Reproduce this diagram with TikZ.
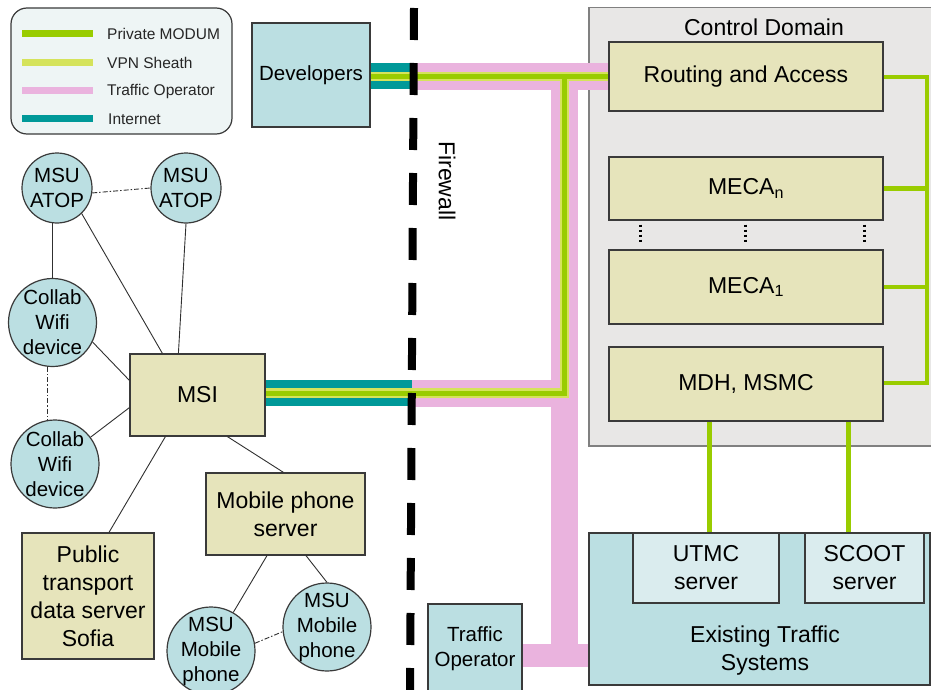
\documentclass[tikz,border=0pt]{standalone}
\usepackage{fontspec}
\setmainfont{Liberation Sans}
\usetikzlibrary{calc,backgrounds}
\definecolor{khakic}{HTML}{E6E4BB}
\definecolor{bluec}{HTML}{BBDFE2}
\definecolor{lbluec}{HTML}{DAECEE}
\definecolor{grayc}{HTML}{E8E7E6}
\definecolor{legc}{HTML}{EEF5F5}
\definecolor{bordc}{HTML}{3A3A3A}
\definecolor{greenc}{HTML}{99CC00}
\definecolor{vpnc}{HTML}{D5E35B}
\definecolor{pinkc}{HTML}{EAB3DE}
\definecolor{tealc}{HTML}{009999}
\definecolor{linec}{HTML}{303030}
\newcommand\fbig{\fontsize{23}{28}\selectfont}
\newcommand\fmid{\fontsize{20.5}{25}\selectfont}
\newcommand\fsml{\fontsize{15.5}{18}\selectfont}
\begin{document}
\begin{tikzpicture}[x=1pt,y=-1pt,
  khaki/.style={draw=bordc, line width=1.2pt, fill=khakic, inner sep=0pt, align=center, font=\fbig},
  bluebox/.style={draw=bordc, line width=1.2pt, fill=bluec, inner sep=0pt, align=center},
  lblue/.style={draw=bordc, line width=1.2pt, fill=lbluec, inner sep=0pt, align=center, font=\fbig},
  circ/.style={circle, draw=bordc, line width=1.2pt, fill=bluec, inner sep=0pt},
  clbl/.style={align=center, font=\fmid},
  conn/.style={draw=linec, line width=0.9pt},
  dashdot/.style={conn, dash pattern=on 5pt off 2pt on 1.5pt off 2pt},
  pinkband/.style={draw=pinkc, line width=27pt},
  tealband/.style={draw=tealc, line width=26pt},
  vpnband/.style={draw=vpnc, line width=9.5pt, line join=miter},
  greenband/.style={draw=greenc, line width=5pt, line join=miter},
  busline/.style={draw=greenc, line width=4.5pt, line join=miter},
  dotcol/.style={draw=black, line width=2.5pt, dash pattern=on 2.5pt off 2.5pt},
  legtxt/.style={anchor=west, inner sep=0pt, font=\fsml, text=black!85},
]
\useasboundingbox (0,0) rectangle (931,690);

% background containers
\begin{scope}[on background layer]
\fill[white] (0,0) rectangle (931,690);
\node[draw=black!50, line width=1.5pt, fill=grayc, minimum width=360pt, minimum height=438pt, anchor=north west, inner sep=0pt] (cd) at (588,7) {};
\node[bluebox, minimum width=341pt, minimum height=152pt] (ets) at (759.5,609) {};
\end{scope}

\node[font=\fbig, inner sep=0pt] (cdlbl) at (764,27) {Control Domain};
\node[font=\fbig, align=center, inner sep=0pt] (etslbl) at (765,651) {Existing Traffic\\Systems};

% legend
\node[draw=bordc, line width=1.2pt, fill=legc, rounded corners=16pt, minimum width=221pt, minimum height=126pt, inner sep=0pt] (legend) at (121.5,71) {};
\draw[greenc, line width=7pt] (22,34) -- (93,34);
\draw[vpnc, line width=7pt] (22,63) -- (93,63);
\draw[pinkc, line width=7pt] (22,91) -- (93,91);
\draw[tealc, line width=7pt] (22,119) -- (93,119);
\node[legtxt] (lg1) at (107,34) {Private MODUM};
\node[legtxt] (lg2) at (107,63) {VPN Sheath};
\node[legtxt] (lg3) at (107,91) {Traffic Operator};
\node[legtxt] (lg4) at (108,119) {Internet};

% control domain boxes
\node[khaki, minimum width=274pt, minimum height=69pt] (ra) at (746,76.5) {Routing and Access};
\node[khaki, minimum width=274pt, minimum height=63pt] (mecan) at (746,188.5) {MECA\textsubscript{n}};
\node[khaki, minimum width=274pt, minimum height=74pt] (meca1) at (746,287) {MECA\textsubscript{1}};
\node[khaki, minimum width=274pt, minimum height=74pt] (mdh) at (746,384) {MDH, MSMC};

\node[lblue, minimum width=146pt, minimum height=70pt] (utmc) at (706,568) {UTMC\\server};
\node[lblue, minimum width=119pt, minimum height=70pt] (scoot) at (864.5,568) {SCOOT\\server};

\node[bluebox, minimum width=118pt, minimum height=104pt, font=\fmid] (dev) at (311,75) {Developers};
\node[bluebox, minimum width=94pt, minimum height=89pt, font=\fmid] (to) at (475,648.5) {Traffic\\Operator};

\node[khaki, minimum width=135pt, minimum height=82pt] (msi) at (197.5,395) {MSI};
\node[khaki, minimum width=159pt, minimum height=82pt] (mps) at (285.5,514) {Mobile phone\\server};
\node[khaki, minimum width=132pt, minimum height=126pt] (pts) at (88,596) {Public\\transport\\data server\\Sofia};

\node[circ, minimum size=70pt, label={[clbl]center:MSU\\ATOP}] (atop1) at (57,188) {};
\node[circ, minimum size=70pt, label={[clbl]center:MSU\\ATOP}] (atop2) at (186,188) {};
\node[circ, minimum size=88pt, label={[clbl]center:Collab\\Wifi\\device}] (wifi1) at (52.5,322.5) {};
\node[circ, minimum size=88pt, label={[clbl]center:Collab\\Wifi\\device}] (wifi2) at (55,464) {};
\node[circ, minimum size=88pt, label={[clbl]center:MSU\\Mobile\\phone}] (mob1) at (211,651) {};
\node[circ, minimum size=88pt, label={[clbl]center:MSU\\Mobile\\phone}] (mob2) at (327,627) {};

\node[font=\fbig, rotate=-90, inner sep=0pt] (fwlbl) at (447,181) {Firewall};

% network bands
\coordinate (j1) at (564.5,76.5);
\coordinate (j2) at (564.5,393);
\coordinate (jt) at (564.5,63);
\coordinate (jb) at (564.5,667);
\coordinate (pb) at (564.5,655);
\coordinate (fw1) at (413,76.5);
\coordinate (fw2) at (412,393);
\coordinate (fwtop) at (414,8);
\coordinate (fwbot) at (410,700);
\begin{scope}[on background layer]
\draw[pinkband] (fw1) -- (ra.west);
\draw[pinkband] (jt) -- (jb);
\draw[pinkband] (fw2) -- (j2);
\draw[pinkc, line width=23pt] (to.east |- pb) -- (ets.west |- pb);
\draw[tealband] (ra.west -| dev.east) -- (fw1);
\draw[tealband] (msi.east |- j2) -- (fw2);
\draw[vpnband] (ra.west -| dev.east) -- (ra.west);
\draw[vpnband] (j1) -- (j2) -- (msi.east |- j2);
\draw[greenband] (ra.west -| dev.east) -- (ra.west);
\draw[greenband] (j1) -- (j2) -- (msi.east |- j2);
\end{scope}
\draw[line width=8pt, dash pattern=on 32pt off 23pt] (fwtop) -- (fwbot);

% green bus on the right
\coordinate (busT) at (927,77);
\coordinate (busB) at (927,383);
\draw[busline] (ra.east |- busT) -- (busT) -- (busB) -- (mdh.east |- busB);
\draw[busline] (mecan.east) -- (mecan.east -| busT);
\draw[busline] (meca1.east) -- (meca1.east -| busT);
\coordinate (g1) at (709,0);
\coordinate (g2) at (848,0);
\draw[draw=greenc, line width=5pt] (mdh.south -| g1) -- (utmc.north -| g1);
\draw[draw=greenc, line width=5pt] (mdh.south -| g2) -- (scoot.north -| g2);

% dotted markers
\foreach \dx in {32,137,256}{
  \draw[dotcol] ($(mecan.south west)+(\dx,4)$) -- ($(meca1.north west)+(\dx,-7)$);
}

% thin connectors
\draw[dashdot] (atop1.-8) -- (atop2.180);
\draw[conn] (atop1.-98) -- (atop1.-98 |- wifi1.north);
\draw[conn] (atop1.-46) -- ($(msi.north west)+(33,0)$);
\draw[conn] (atop2.south) -- ($(msi.north west)+(49,0)$);
\draw[conn] (wifi1.-26) -- ($(msi.north west)+(0,27)$);
\draw[dashdot] (wifi1.-96) -- (wifi1.-96 |- wifi2.north);
\draw[conn] (wifi2.37) -- ($(msi.south west)+(0,-29)$);
\draw[conn] ($(msi.south west)+(36,0)$) -- ($(pts.north)+(21,0)$);
\draw[conn] ($(msi.south west)+(98,0)$) -- ($(mps.north)+(-2,0)$);
\draw[conn] ($(mps.south)+(-18.5,0)$) -- (mob1.60);
\draw[conn] ($(mps.south)+(20.5,0)$) -- (mob2.north);
\draw[dashdot] (mob1.10) -- (mob2.186);
\end{tikzpicture}
\end{document}
